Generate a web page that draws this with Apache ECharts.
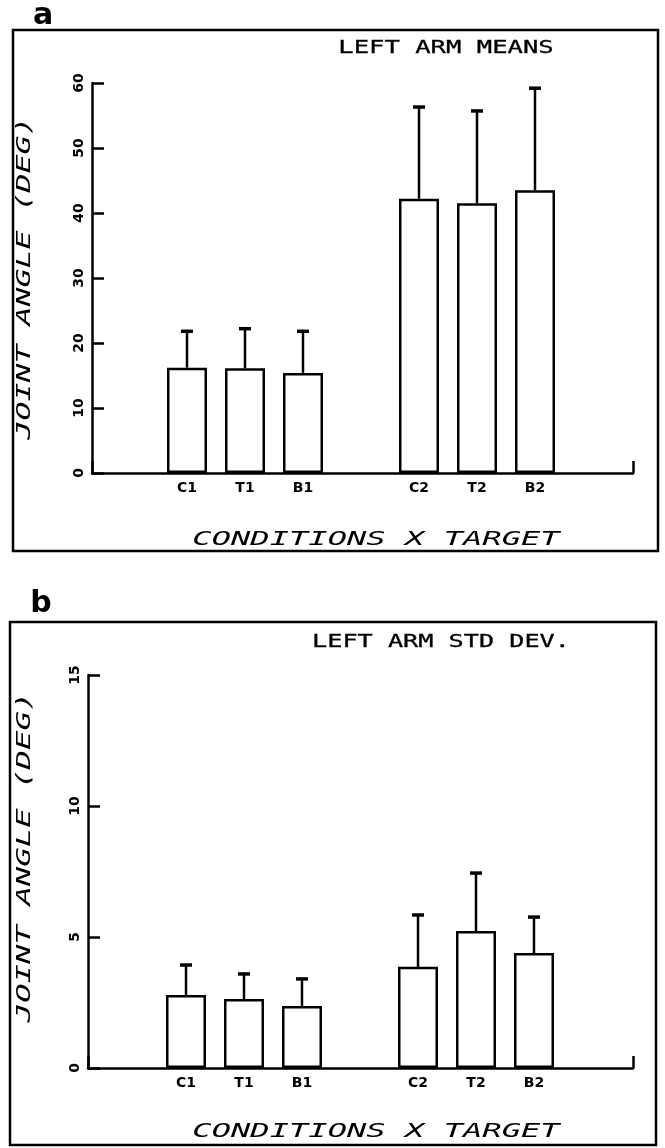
<!DOCTYPE html>
<html>
<head>
<meta charset="utf-8">
<title>Left arm means / std dev</title>
<script src="https://cdn.jsdelivr.net/npm/echarts@6/dist/echarts.min.js"></script>
<style>
	html, body { margin: 0; padding: 0; background: #fff; }
	#chart { width: 665px; height: 1148px; }
</style>
</head>
<body>
<div id="chart"></div>
<script>
//categories, '' is the empty slot between the two groups
var categories = [ 'C1', 'T1', 'B1', '', 'C2', 'T2', 'B2' ];

//a : means (deg) and top of error bar
var meanValues = [ 16.2, 16.1, 15.4, null, 42.2, 41.5, 43.5 ];
var meanErrTop = [ 21.8, 22.2, 21.8, null, 56.3, 55.7, 59.2 ];

//b : std dev (deg) and top of error bar
var sdValues = [ 2.79, 2.63, 2.37, null, 3.86, 5.23, 4.39 ];
var sdErrTop = [ 3.93, 3.59, 3.40, null, 5.84, 7.44, 5.76 ];

//y axis ranges
var meanAxis = { min: 0, max: 60, interval: 10 };
var sdAxis = { min: 0, max: 15, interval: 5 };

var MONO = '"DejaVu Sans Mono", "Liberation Mono", monospace';
var SANS = '"DejaVu Sans", "Liberation Sans", sans-serif';
var LW = 2.5;

function errData( values, tops )
{
	var out = [];
	for( var i = 0; i < values.length; i++ )
	{
		if( values[i] != null ) out.push( [ i, values[i], tops[i] ] );
	}
	return out;
}

function renderErr( params, api )
{
	var lo = api.coord( [ api.value( 0 ), api.value( 1 ) ] );
	var hi = api.coord( [ api.value( 0 ), api.value( 2 ) ] );
	return {
		type: 'group',
		children: [
			{ type: 'line', shape: { x1: lo[0], y1: lo[1], x2: hi[0], y2: hi[1] }, style: { stroke: '#000', lineWidth: LW } },
			{ type: 'line', shape: { x1: hi[0] - 6, y1: hi[1], x2: hi[0] + 6, y2: hi[1] }, style: { stroke: '#000', lineWidth: 3.5 } }
		]
	};
}

//outer axis: only the base line with the end tick
function outerX( idx )
{
	return {
		type: 'value', gridIndex: idx, min: 0, max: 1, interval: 1,
		axisLine: { show: true, lineStyle: { color: '#000', width: LW } },
		axisTick: { show: true, inside: true, length: 12, lineStyle: { color: '#000', width: LW } },
		axisLabel: { show: false },
		splitLine: { show: false }
	};
}

function innerX( idx )
{
	return {
		type: 'category', gridIndex: idx, data: categories,
		axisLine: { show: false },
		axisTick: { show: false },
		axisLabel: { show: true, color: '#000', fontFamily: SANS, fontWeight: 'bold', fontSize: 14, margin: 8 },
		splitLine: { show: false }
	};
}

function visibleY( idx, range )
{
	return {
		type: 'value', gridIndex: idx, min: range.min, max: range.max, interval: range.interval,
		axisLine: { show: true, lineStyle: { color: '#000', width: LW } },
		axisTick: { show: true, inside: true, length: 12, lineStyle: { color: '#000', width: LW } },
		axisLabel: { show: true, rotate: 90, margin: 6, color: '#000', fontFamily: SANS, fontWeight: 'bold', fontSize: 14 },
		splitLine: { show: false }
	};
}

function hiddenY( idx, range )
{
	return { type: 'value', gridIndex: idx, min: range.min, max: range.max, show: false, splitLine: { show: false } };
}

function barSeries( idx, values )
{
	return {
		type: 'bar', xAxisIndex: idx, yAxisIndex: idx, data: values, barWidth: 40,
		itemStyle: { color: '#fff', borderColor: '#000', borderWidth: LW },
		silent: true
	};
}

function errSeries( idx, values, tops )
{
	return { type: 'custom', xAxisIndex: idx, yAxisIndex: idx, data: errData( values, tops ), renderItem: renderErr, z: 3, silent: true };
}

function stretched( text, x, y, font, sx, rot, sw )
{
	return {
		type: 'text', x: x, y: y, scaleX: sx, rotation: rot || 0, silent: true,
		style: { text: text, font: font, fill: '#000', stroke: '#000', lineWidth: sw || 0, textAlign: 'center', textVerticalAlign: 'middle' }
	};
}

var chart = echarts.init( document.getElementById( 'chart' ), null, { renderer: 'canvas' } );

chart.setOption({
	backgroundColor: '#fff',
	animation: false,
	grid: [
		{ left: 92, top: 83, width: 541, height: 390 },
		{ left: 158, top: 83, width: 406, height: 390 },
		{ left: 88, top: 675, width: 545, height: 393 },
		{ left: 157, top: 675, width: 406, height: 393 }
	],
	xAxis: [ outerX( 0 ), innerX( 1 ), outerX( 2 ), innerX( 3 ) ],
	yAxis: [ visibleY( 0, meanAxis ), hiddenY( 1, meanAxis ), visibleY( 2, sdAxis ), hiddenY( 3, sdAxis ) ],
	series: [
		barSeries( 1, meanValues ),
		errSeries( 1, meanValues, meanErrTop ),
		barSeries( 3, sdValues ),
		errSeries( 3, sdValues, sdErrTop )
	],
	graphic: [
		//frames
		{ type: 'rect', shape: { x: 13, y: 30, width: 645, height: 521 }, style: { fill: 'none', stroke: '#000', lineWidth: LW }, silent: true },
		{ type: 'rect', shape: { x: 10, y: 622, width: 646, height: 523 }, style: { fill: 'none', stroke: '#000', lineWidth: LW }, silent: true },
		//panel letters
		{ type: 'text', x: 43, y: 16, silent: true, style: { text: 'a', font: 'bold 30px ' + SANS, fill: '#000', textAlign: 'center', textVerticalAlign: 'middle' } },
		{ type: 'text', x: 41, y: 604, silent: true, style: { text: 'b', font: 'bold 30px ' + SANS, fill: '#000', textAlign: 'center', textVerticalAlign: 'middle' } },
		//titles
		stretched( 'LEFT ARM MEANS', 446, 48, '18px ' + MONO, 1.42, 0, 0.3 ),
		stretched( 'LEFT ARM STD DEV.', 441, 642, '18px ' + MONO, 1.40, 0, 0.3 ),
		//axis names
		stretched( 'CONDITIONS X TARGET', 376, 540, 'italic 19px ' + MONO, 1.69 ),
		stretched( 'CONDITIONS X TARGET', 376, 1132, 'italic 19px ' + MONO, 1.69 ),
		stretched( 'JOINT ANGLE (DEG)', 25, 278, 'italic 19px ' + MONO, 1.66, Math.PI / 2 ),
		stretched( 'JOINT ANGLE (DEG)', 25, 857, 'italic 19px ' + MONO, 1.70, Math.PI / 2 )
	]
});
</script>
</body>
</html>
